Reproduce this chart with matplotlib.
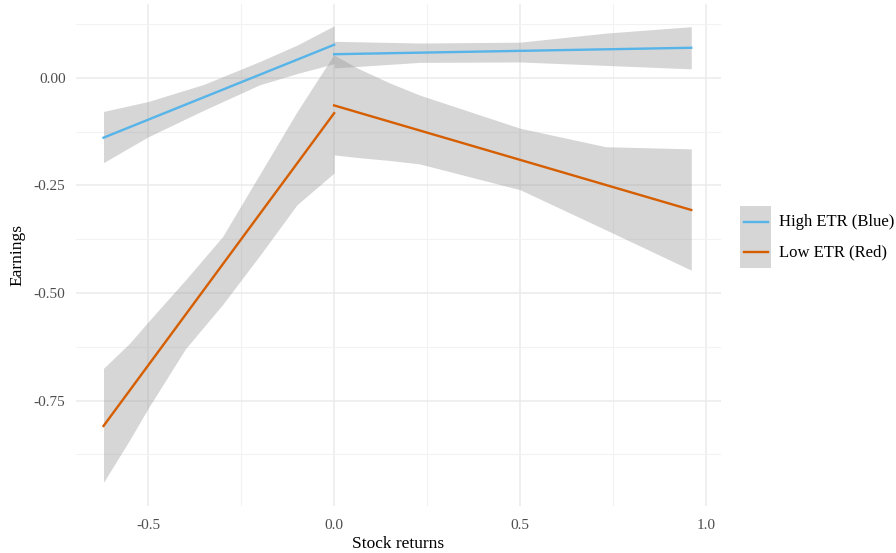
import matplotlib.pyplot as plt
from matplotlib.patches import Rectangle
from matplotlib.lines import Line2D

plt.rcParams['font.family'] = ['Liberation Serif', 'DejaVu Serif']

# fitted lines (two segments per group, split at zero return)
blue_left_x = [-0.62, 0.0]
blue_left_y = [-0.139, 0.077]
blue_right_x = [0.0, 0.96]
blue_right_y = [0.055, 0.070]
red_left_x = [-0.62, 0.0]
red_left_y = [-0.809, -0.082]
red_right_x = [0.0, 0.96]
red_right_y = [-0.064, -0.307]

# confidence bands
blue_left_bx = [-0.62, -0.5, -0.35, -0.2, -0.1, 0.0]
blue_left_lo = [-0.197, -0.137, -0.075, -0.016, 0.010, 0.033]
blue_left_hi = [-0.078, -0.055, -0.015, 0.038, 0.076, 0.121]

blue_right_bx = [0.0, 0.23, 0.5, 0.73, 0.96]
blue_right_lo = [0.023, 0.036, 0.037, 0.029, 0.021]
blue_right_hi = [0.085, 0.081, 0.083, 0.104, 0.119]

red_left_bx = [-0.62, -0.55, -0.5, -0.4, -0.3, -0.2, -0.1, 0.0]
red_left_lo = [-0.940, -0.842, -0.768, -0.630, -0.527, -0.413, -0.295, -0.221]
red_left_hi = [-0.675, -0.617, -0.567, -0.470, -0.369, -0.224, -0.079, 0.055]

red_right_bx = [0.0, 0.062, 0.15, 0.23, 0.5, 0.73, 0.96]
red_right_lo = [-0.179, -0.185, -0.192, -0.200, -0.260, -0.353, -0.447]
red_right_hi = [0.053, 0.023, -0.012, -0.040, -0.117, -0.160, -0.165]

x_ticks = [-0.5, 0.0, 0.5, 1.0]
x_minor = [-0.25, 0.25, 0.75]
y_ticks = [0.0, -0.25, -0.5, -0.75]
y_minor = [0.125, -0.125, -0.375, -0.625, -0.875]
labels = ['High ETR (Blue)', 'Low ETR (Red)']

blue = '#56B4E9'
red = '#D55E00'
band = '#999999'

fig = plt.figure(figsize=(8.96, 5.53), dpi=100)
ax = fig.add_axes([0.0848, 0.085, 0.7199, 0.908])

for bx, lo, hi in [(blue_left_bx, blue_left_lo, blue_left_hi),
                   (blue_right_bx, blue_right_lo, blue_right_hi),
                   (red_left_bx, red_left_lo, red_left_hi),
                   (red_right_bx, red_right_lo, red_right_hi)]:
    ax.fill_between(bx, lo, hi, color=band, alpha=0.4, linewidth=0, zorder=2)

ax.plot(blue_left_x, blue_left_y, color=blue, lw=1.7, zorder=3)
ax.plot(blue_right_x, blue_right_y, color=blue, lw=1.7, zorder=3)
ax.plot(red_left_x, red_left_y, color=red, lw=1.7, zorder=3)
ax.plot(red_right_x, red_right_y, color=red, lw=1.7, zorder=3)

ax.set_xlim(-0.694, 1.04)
ax.set_ylim(-0.995, 0.172)
ax.set_xticks(x_ticks)
ax.set_xticklabels(['-0.5', '0.0', '0.5', '1.0'])
ax.set_xticks(x_minor, minor=True)
ax.set_yticks(y_ticks)
ax.set_yticklabels(['0.00', '-0.25', '-0.50', '-0.75'])
ax.set_yticks(y_minor, minor=True)
ax.grid(which='major', color='#EBEBEB', lw=1.1, zorder=0)
ax.grid(which='minor', color='#F2F2F2', lw=0.8, zorder=0)
ax.set_axisbelow(True)
for s in ax.spines.values():
    s.set_visible(False)
ax.tick_params(which='both', length=0, labelsize=11, labelcolor='#4D4D4D')
ax.tick_params(axis='x', pad=9.5)
ax.tick_params(axis='y', pad=7.5)
ax.set_xlabel('Stock returns', fontsize=12.5, labelpad=3)
ax.set_ylabel('Earnings', fontsize=12.5, labelpad=6)

# legend drawn by hand in figure pixels
W, H = 896, 553
fig.add_artist(Rectangle((740 / W, 1 - 268 / H), 31 / W, 62 / H,
                         transform=fig.transFigure, color='#D6D6D6', lw=0))
for i, (lab, col) in enumerate(zip(labels, [blue, red])):
    yy = 1 - (222 + 30 * i) / H
    fig.add_artist(Line2D([744 / W, 768 / W], [yy, yy], transform=fig.transFigure,
                          color=col, lw=1.7))
    fig.text(779 / W, yy, lab, fontsize=12, va='center', ha='left')

fig.savefig('out.png', dpi=100)
